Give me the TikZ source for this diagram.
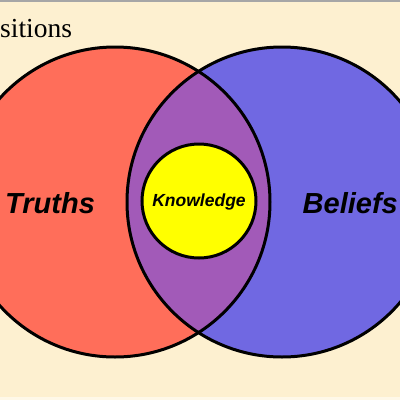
\documentclass[tikz,border=0pt]{standalone}
\usepackage{fontspec}
\setmainfont{Liberation Serif}
\newfontfamily\lsans{Liberation Sans}
\definecolor{bg}{HTML}{FDF0D0}
\definecolor{redc}{HTML}{FF6E5A}
\definecolor{bluec}{HTML}{7068E2}
\definecolor{purp}{HTML}{A25AB8}
\definecolor{yel}{HTML}{FFFF00}
\tikzset{
  setc/.style={circle, inner sep=0pt, minimum size=310pt, line width=3pt},
  lbl/.style={inner sep=0pt, font=\lsans\bfseries\itshape\fontsize{29}{30}\selectfont},
}
\begin{document}
\begin{tikzpicture}[x=1pt,y=-1pt]
\useasboundingbox (0,0) rectangle (400,400);
\fill[bg] (0,0) rectangle (400,400);
\fill[gray!70] (0,0) rectangle (400,2);
\fill[bg!50!white] (0,397) rectangle (400,400);
\node[anchor=base west, inner sep=0pt, font=\fontsize{27.5}{29}\selectfont] (title) at (0,37) {sitions};
\node[setc, fill=redc] (truth) at (115,202) {};
\node[setc, fill=bluec] (belief) at (282,202) {};
\begin{scope}
  \clip (115,202) circle (155pt);
  \fill[purp] (282,202) circle (155pt);
\end{scope}
\node[setc, draw=black] at (115,202) {};
\node[setc, draw=black] at (282,202) {};
\node[circle, inner sep=0pt, minimum size=114pt, line width=3pt, draw=black, fill=yel] (know) at (199,201) {};
\node[lbl, anchor=base west] (tt) at (5,213) {Truths};
\node[lbl, anchor=base east] (bt) at (398,213) {Beliefs};
\node[lbl, anchor=base, font=\lsans\bfseries\itshape\fontsize{17.5}{18}\selectfont] (kt) at (199,206) {Knowledge};
\end{tikzpicture}
\end{document}
